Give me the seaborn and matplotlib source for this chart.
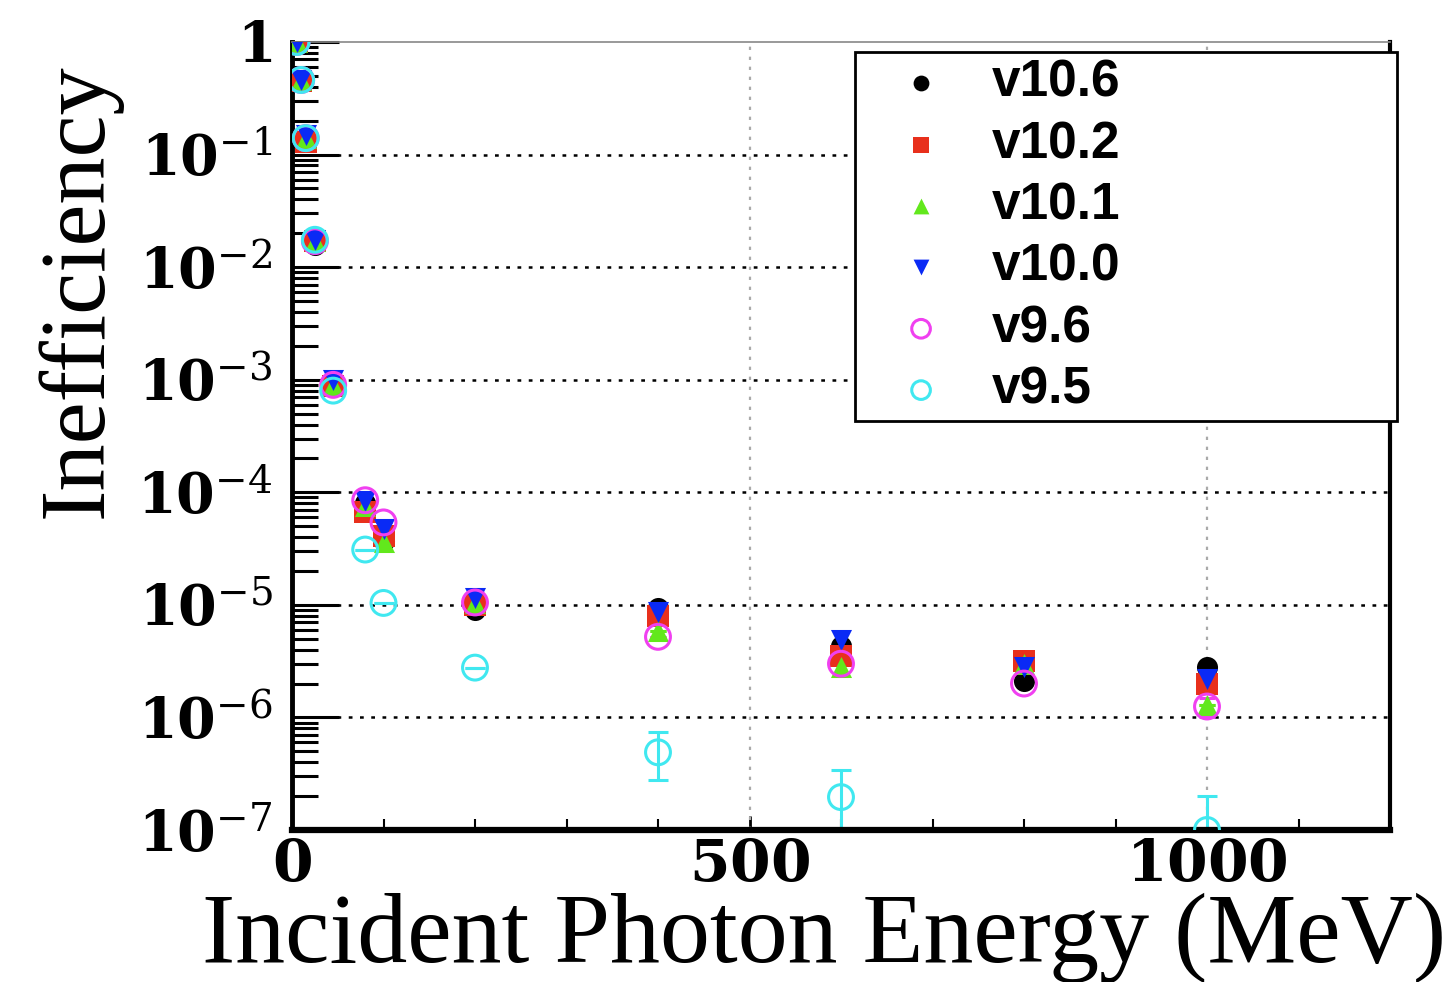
import numpy as np
import pandas as pd
import matplotlib
matplotlib.use("Agg")
import matplotlib.pyplot as plt
import seaborn as sns
from matplotlib.ticker import FixedLocator, LogLocator, NullFormatter

# ---------------- data ----------------
energy = [5, 10, 15, 25, 45, 80, 100, 200, 400, 600, 800, 1000]
v10_6 = [1.0, 0.46, 0.14, 0.0157, 9.5e-4, 8.0e-5, 3.7e-5, 9.0e-6, 9.4e-6, 4.3e-6, 2.1e-6, 2.8e-6]
v10_2 = [1.0, 0.45, 0.13, 0.0170, 8.8e-4, 6.7e-5, 4.1e-5, 1.0e-5, 8.0e-6, 3.5e-6, 3.2e-6, 2.0e-6]
v10_1 = [1.0, 0.46, 0.14, 0.0170, 9.0e-4, 7.5e-5, 3.6e-5, 1.03e-5, 5.8e-6, 2.8e-6, 3.0e-6, 1.3e-6]
v10_0 = [1.0, 0.46, 0.15, 0.0175, 1.0e-3, 8.3e-5, 4.7e-5, 1.14e-5, 8.6e-6, 4.9e-6, 2.8e-6, 2.2e-6]
v9_6 = [1.0, 0.46, 0.14, 0.0170, 9.0e-4, 8.5e-5, 5.4e-5, 1.05e-5, 5.2e-6, 3.0e-6, 2.0e-6, 1.25e-6]
v9_5 = [1.0, 0.46, 0.14, 0.0175, 8.0e-4, 3.1e-5, 1.04e-5, 2.77e-6, 4.9e-7, 1.96e-7, np.nan, 1.0e-7]
# visible error bars (lower / upper extents)
v9_5_lo = [0, 0, 0, 0, 0, 0, 0, 0, 2.1e-7, 1.0e-7, 0, 0.99e-7]
v9_5_hi = [0, 0, 0, 0, 0, 0, 0, 0, 2.5e-7, 1.44e-7, 0, 1.0e-7]
v10_1_err = [0, 0, 0, 0, 0, 0, 0, 0, 0, 0.3e-6, 0, 0]
v9_6_err = [0, 0, 0, 0, 0, 0, 0, 0, 0, 0, 0, 0.25e-6]

series_names = ["v10.6", "v10.2", "v10.1", "v10.0", "v9.6", "v9.5"]
series_vals = [v10_6, v10_2, v10_1, v10_0, v9_6, v9_5]
colors = ["#000000", "#e8301c", "#62e81c", "#0a2af5", "#f040f0", "#40e8f0"]
markers = ["o", "s", "^", "v", "o", "o"]
filled = [True, True, True, True, False, False]

xticks = [0, 500, 1000]
xticklabels = [r"$\mathbf{0}$", r"$\mathbf{500}$", r"$\mathbf{1000}$"]
yticks = [1e-7, 1e-6, 1e-5, 1e-4, 1e-3, 1e-2, 1e-1, 1]
yticklabels = [r"$\mathbf{10}^{-7}$", r"$\mathbf{10}^{-6}$", r"$\mathbf{10}^{-5}$",
               r"$\mathbf{10}^{-4}$", r"$\mathbf{10}^{-3}$", r"$\mathbf{10}^{-2}$",
               r"$\mathbf{10}^{-1}$", r"$\mathbf{1}$"]

# ---------------- style ----------------
sns.set_theme(style="white")
plt.rcParams["font.family"] = ["Liberation Serif", "DejaVu Serif"]
plt.rcParams["mathtext.fontset"] = "dejavuserif"
plt.rcParams["text.color"] = "black"
plt.rcParams["axes.labelcolor"] = "black"
plt.rcParams["xtick.color"] = "black"
plt.rcParams["ytick.color"] = "black"

fig = plt.figure(figsize=(14.56, 9.82), dpi=100)
ax = fig.add_axes([292 / 1456, 1 - 830 / 982, 1098 / 1456, 788 / 982])

rows = []
for name, vals in zip(series_names, series_vals):
    for e, v in zip(energy, vals):
        rows.append({"energy": e, "ineff": v, "version": name})
df = pd.DataFrame(rows)

# error bars
ax.errorbar(energy, v9_5, yerr=[v9_5_lo, v9_5_hi], fmt="none", ecolor=colors[5],
            elinewidth=2.2, capsize=7, capthick=2.2, zorder=2)
ax.errorbar(energy, v10_1, yerr=v10_1_err, fmt="none", ecolor=colors[2],
            elinewidth=2.2, capsize=6, capthick=2.2, zorder=2)
ax.errorbar(energy, v9_6, yerr=v9_6_err, fmt="none", ecolor=colors[4],
            elinewidth=2.2, capsize=6, capthick=2.2, zorder=2)

for i, name in enumerate(series_names):
    sub = df[df["version"] == name]
    if filled[i]:
        sns.scatterplot(data=sub, x="energy", y="ineff", ax=ax, marker=markers[i],
                        s=230, color=colors[i], edgecolor=colors[i], linewidth=0,
                        label=name, zorder=3 + i)
    else:
        sns.scatterplot(data=sub, x="energy", y="ineff", ax=ax, marker=markers[i],
                        s=320, facecolor="none", edgecolor=colors[i], linewidth=2.2,
                        label=name, zorder=3 + i)

ax.set_yscale("log")
ax.set_xlim(0, 1200)
ax.set_ylim(1e-7, 1)

# grid
for yv in yticks[1:-1]:
    ax.axhline(yv, color="black", linestyle=(0, (1.5, 3)), linewidth=1.8, zorder=1)
for xv in [500, 1000]:
    ax.axvline(xv, color="#aaaaaa", linestyle=(0, (1.5, 3)), linewidth=1.6, zorder=1)

# ticks
ax.set_xticks(xticks)
ax.set_xticklabels(xticklabels)
ax.xaxis.set_minor_locator(FixedLocator(np.arange(100, 1200, 100)))
ax.set_yticks(yticks)
ax.set_yticklabels(yticklabels)
ax.yaxis.set_minor_locator(LogLocator(base=10, subs=np.arange(2, 10), numticks=20))
ax.yaxis.set_minor_formatter(NullFormatter())

ax.tick_params(axis="y", which="major", direction="in", length=34, width=2.2,
               labelsize=40, pad=14, left=True, right=False)
ax.tick_params(axis="y", which="minor", direction="in", length=19, width=2.2,
               left=True, right=False)
ax.tick_params(axis="x", which="major", direction="in", length=10, width=2.0,
               labelsize=42, pad=8, bottom=True, top=False)
ax.tick_params(axis="x", which="minor", direction="in", length=8, width=1.5,
               bottom=True, top=False)

# spines
ax.spines["left"].set_linewidth(3.5)
ax.spines["bottom"].set_linewidth(4.5)
ax.spines["top"].set_linewidth(1.2)
ax.spines["top"].set_color("#888888")
ax.spines["right"].set_linewidth(3.0)
ax.spines["right"].set_color("black")
ax.spines["left"].set_color("black")
ax.spines["bottom"].set_color("black")
for s in ax.spines.values():
    s.set_visible(True)

# labels
ax.set_xlabel("Incident Photon Energy (MeV)", fontsize=72, labelpad=0, color="black")
ax.xaxis.set_label_coords(0.485, -0.08, transform=ax.transAxes)
ax.xaxis.label.set_va("top")
ax.set_ylabel("Inefficiency", fontsize=68, color="black")
ax.yaxis.set_label_coords(-0.155, 0.685)

# legend
leg = ax.legend(loc="upper left", bbox_to_anchor=(0.513, 0.518, 0.493, 0.469),
                mode="expand", borderaxespad=0, frameon=True, fancybox=False,
                edgecolor="black", framealpha=1, borderpad=0.13, labelspacing=0.24,
                handlelength=2.3, handletextpad=0.22, markerscale=0.75,
                prop={"family": "Liberation Sans", "weight": "bold", "size": 37})
leg.get_frame().set_linewidth(2.0)
leg.set_zorder(20)
for t in leg.get_texts():
    t.set_color("black")

fig.savefig("out.png", dpi=100)
